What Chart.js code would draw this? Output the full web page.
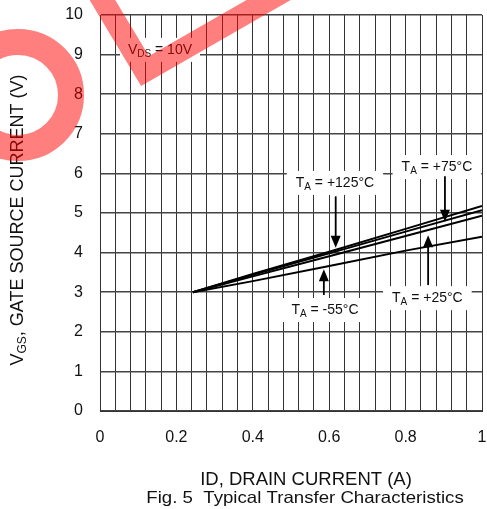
<!DOCTYPE html>
<html>
<head>
    <title>Typical Transfer Characteristics</title>
    <script src="https://cdn.jsdelivr.net/npm/chart.js@4.4.0/dist/chart.umd.min.js"></script>
    <style>
        html, body { margin: 0; padding: 0; background: #fff; }
        #wrap { width: 487px; height: 509px; position: relative; }
    </style>
</head>
<body>
    <div id="wrap"><canvas id="chartCanvas"></canvas></div>

    <script>
        // Date
        const idX = [0.243, 0.4, 0.6, 0.8, 1.0];
        const vgs125 = [3.0, 3.46, 4.02, 4.60, 5.18];
        const vgs75 = [3.0, 3.44, 3.98, 4.53, 5.07];
        const vgs25 = [3.0, 3.40, 3.91, 4.42, 4.93];
        const vgsM55 = [3.0, 3.28, 3.66, 4.05, 4.40];
        const tempLabels = ['+125°C', '+75°C', '+25°C', '-55°C'];
        const xTitle = 'ID, DRAIN CURRENT (A)';
        const caption = 'Fig. 5  Typical Transfer Characteristics';

        const FONT = "'Liberation Sans', Arial, sans-serif";

        // etichete T_A: text (x, y) si sageata (x, coada, varf) in unitati de date
        const notes = [
            { label: tempLabels[0], tx: 0.615, ty: 5.76, ax: 0.617, a0: 5.42, a1: 4.12 },
            { label: tempLabels[1], tx: 0.882, ty: 6.16, ax: 0.903, a0: 5.93, a1: 4.78 },
            { label: tempLabels[2], tx: 0.857, ty: 2.85, ax: 0.859, a0: 3.18, a1: 4.44 },
            { label: tempLabels[3], tx: 0.589, ty: 2.55, ax: 0.586, a0: 2.93, a1: 3.58 },
        ];

        function pts(ys) {
            return ys.map((y, i) => ({ x: idX[i], y: y }));
        }

        // text cu indice
        function drawParts(ctx, parts, cx, cy) {
            let w = 0;
            parts.forEach(p => {
                ctx.font = p.size + 'px ' + FONT;
                p.w = ctx.measureText(p.t).width;
                w += p.w;
            });
            let x = cx - w / 2;
            ctx.textAlign = 'left';
            ctx.textBaseline = 'middle';
            parts.forEach(p => {
                ctx.font = p.size + 'px ' + FONT;
                ctx.fillText(p.t, x, cy + (p.dy || 0));
                x += p.w;
            });
            return w;
        }

        function arrow(ctx, x, y0, y1) {
            const dir = y1 > y0 ? 1 : -1;
            ctx.beginPath();
            ctx.moveTo(x, y0);
            ctx.lineTo(x, y1 - dir * 9);
            ctx.lineWidth = 1.8;
            ctx.strokeStyle = '#000';
            ctx.stroke();
            ctx.beginPath();
            ctx.moveTo(x, y1);
            ctx.lineTo(x - 5, y1 - dir * 12);
            ctx.lineTo(x + 5, y1 - dir * 12);
            ctx.closePath();
            ctx.fillStyle = '#000';
            ctx.fill();
        }

        function noPad(scale) {
            scale.paddingLeft = 0;
            scale.paddingRight = 0;
            scale.paddingTop = 0;
            scale.paddingBottom = 0;
        }

        const decor = {
            id: 'decor',
            afterDatasetsDraw(chart) {
                const ctx = chart.ctx;
                const xs = chart.scales.x, ys = chart.scales.y;
                ctx.save();
                // V_DS = 10V
                const vParts = [{ t: 'V', size: 14 }, { t: 'DS', size: 10, dy: 4 }, { t: ' = 10V', size: 14 }];
                const vx = xs.getPixelForValue(0.157), vy = ys.getPixelForValue(9.12);
                ctx.fillStyle = '#fff';
                ctx.fillRect(vx - 40, vy - 12, 80, 24);
                ctx.fillStyle = '#111';
                drawParts(ctx, vParts, vx, vy);

                notes.forEach(n => {
                    const parts = [{ t: 'T', size: 14 }, { t: 'A', size: 10, dy: 4 }, { t: ' = ' + n.label, size: 14 }];
                    const cx = xs.getPixelForValue(n.tx), cy = ys.getPixelForValue(n.ty);
                    let w = 0;
                    parts.forEach(p => { ctx.font = p.size + 'px ' + FONT; w += ctx.measureText(p.t).width; });
                    ctx.fillStyle = '#fff';
                    ctx.fillRect(cx - w / 2 - 9, cy - 12, w + 18, 24);
                    ctx.fillStyle = '#111';
                    drawParts(ctx, parts, cx, cy);
                    arrow(ctx, xs.getPixelForValue(n.ax), ys.getPixelForValue(n.a0), ys.getPixelForValue(n.a1));
                });
                ctx.restore();
            },
            afterDraw(chart) {
                const ctx = chart.ctx;
                ctx.save();
                ctx.fillStyle = '#111';
                // titlu axa Y
                ctx.translate(18, 220);
                ctx.rotate(-Math.PI / 2);
                drawParts(ctx, [{ t: 'V', size: 18 }, { t: 'GS', size: 12, dy: 5 }, { t: ', GATE SOURCE CURRENT (V)', size: 18 }], 0, 0);
                ctx.restore();

                ctx.save();
                ctx.fillStyle = '#111';
                ctx.textAlign = 'center';
                ctx.textBaseline = 'middle';
                ctx.font = '18.5px ' + FONT;
                ctx.fillText(xTitle, 306, 480);
                ctx.translate(305, 498);
                ctx.scale(1.13, 1);
                ctx.font = '16.5px ' + FONT;
                ctx.fillText(caption, 0, 0);
                ctx.restore();

                // stampila rosie
                ctx.save();
                ctx.strokeStyle = 'rgba(255, 0, 0, 0.5)';
                ctx.lineWidth = 26;
                ctx.beginPath();
                ctx.arc(18, 95, 53, 0, Math.PI * 2);
                ctx.stroke();
                ctx.lineWidth = 22;
                ctx.lineJoin = 'miter';
                ctx.beginPath();
                ctx.moveTo(85, -29);
                ctx.lineTo(145, 71);
                ctx.lineTo(300, -18);
                ctx.stroke();
                ctx.restore();
            }
        };

        const lineStyle = { borderColor: '#000', borderWidth: 2, pointRadius: 0, tension: 0, fill: false };

        const ctx = document.getElementById('chartCanvas').getContext('2d');
        const chart = new Chart(ctx, {
            type: 'line',
            data: {
                datasets: [
                    { label: 'TA = ' + tempLabels[0], data: pts(vgs125), ...lineStyle },
                    { label: 'TA = ' + tempLabels[1], data: pts(vgs75), ...lineStyle },
                    { label: 'TA = ' + tempLabels[2], data: pts(vgs25), ...lineStyle },
                    { label: 'TA = ' + tempLabels[3], data: pts(vgsM55), ...lineStyle },
                ],
            },
            options: {
                responsive: true,
                maintainAspectRatio: false,
                animation: false,
                layout: { padding: { top: 15, right: 5, left: 0, bottom: 0 } },
                plugins: {
                    legend: { display: false },
                    tooltip: { enabled: false },
                },
                scales: {
                    x: {
                        type: 'linear',
                        min: 0,
                        max: 1,
                        afterFit(scale) { scale.height = 98; noPad(scale); },
                        grid: { color: '#333', lineWidth: 1, drawTicks: false },
                        border: { color: '#333', width: 1 },
                        ticks: {
                            stepSize: 0.04,
                            autoSkip: false,
                            maxRotation: 0,
                            padding: 17,
                            color: '#111',
                            font: { family: FONT, size: 16 },
                            callback: (v) => Math.round(v * 100) % 20 === 0 ? String(+v.toFixed(1)) : '',
                        },
                    },
                    y: {
                        min: 0,
                        max: 10,
                        afterFit(scale) { scale.width = 100; noPad(scale); },
                        grid: { color: '#444', lineWidth: 1.5, drawTicks: false },
                        border: { color: '#333', width: 1 },
                        ticks: {
                            stepSize: 1,
                            padding: 17,
                            color: '#111',
                            font: { family: FONT, size: 16 },
                        },
                    },
                },
            },
            plugins: [decor],
        });
    </script>
</body>
</html>
